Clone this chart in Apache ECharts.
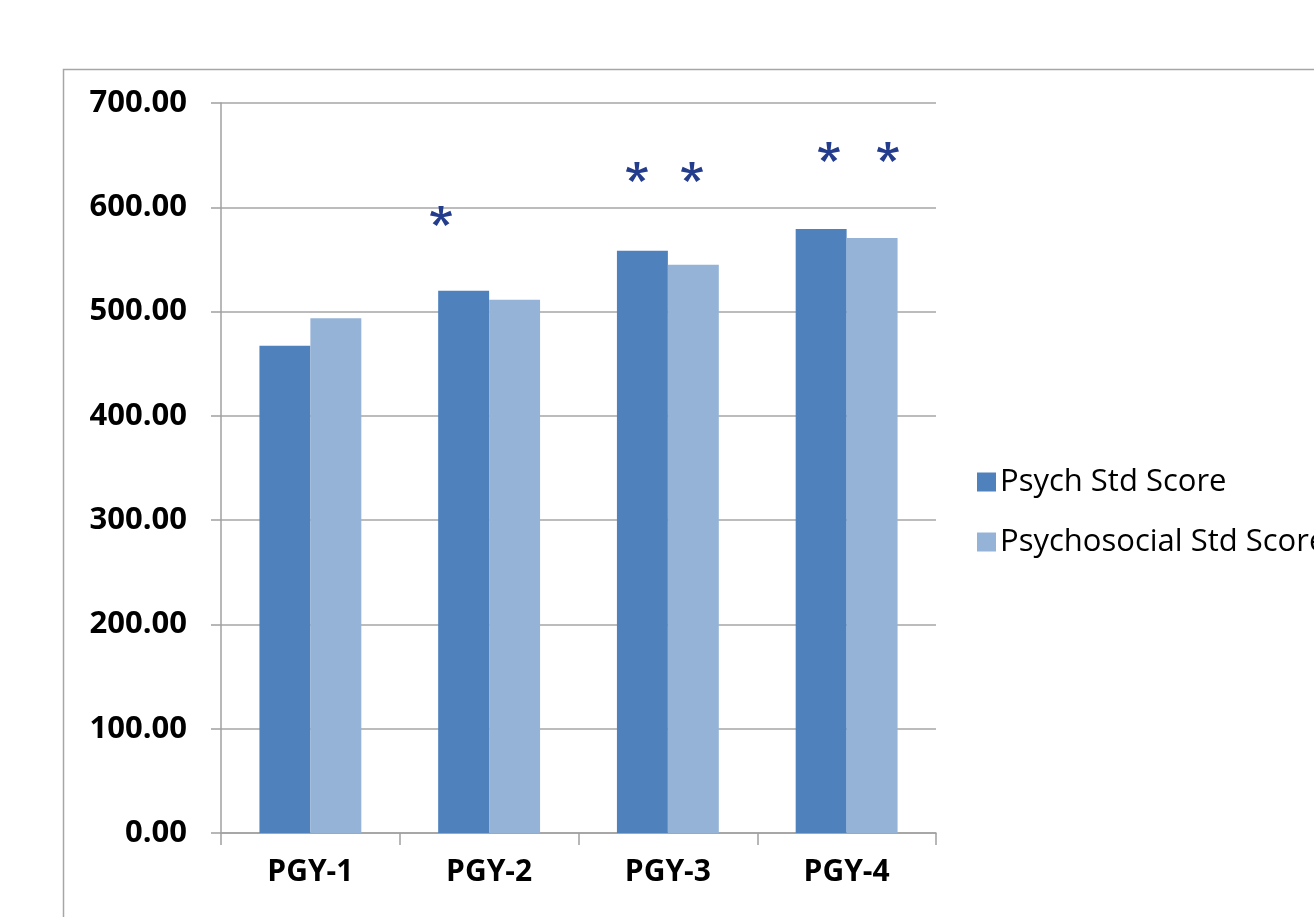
<!DOCTYPE html>
<html>
<head>
<meta charset="utf-8">
<script src="https://cdn.jsdelivr.net/npm/echarts@6/dist/echarts.min.js"></script>
<style>html,body{margin:0;padding:0;background:#fff}#c{width:1314px;height:917px}</style>
</head>
<body>
<div id="c"></div>
<script>
var categories = ['PGY-1', 'PGY-2', 'PGY-3', 'PGY-4'];
var seriesNames = ['Psych Std Score', 'Psychosocial Std Score'];
var psychValues = [467.3, 520.0, 558.4, 579.2];
var psychosocialValues = [493.5, 511.4, 544.9, 570.6];
var yTicks = { min: 0, max: 700, interval: 100 };
// significance markers: [category position (0..4), value]
var asteriskMarks = [[1.231, 591.6], [2.327, 633.8], [2.635, 633.8], [3.401, 653.0], [3.731, 653.0]];

// heavy five-armed asterisk glyph as a symbol path
function asteriskPath() {
  var parts = [];
  for (var i = 0; i < 5; i++) {
    var a = (-90 + 72 * i) * Math.PI / 180;
    var dx = Math.cos(a), dy = Math.sin(a), px = -dy, py = dx;
    var w0 = 0.13, w1 = 0.24, L = 1;
    var pts = [
      [px * w0, py * w0],
      [dx * L + px * w1, dy * L + py * w1],
      [dx * L - px * w1, dy * L - py * w1],
      [-px * w0, -py * w0]
    ];
    parts.push('M' + pts.map(function (p) { return (p[0] * 50 + 100).toFixed(2) + ' ' + (p[1] * 50 + 100).toFixed(2); }).join(' L') + ' Z');
  }
  return 'path://' + parts.join(' ');
}

var chart = echarts.init(document.getElementById('c'), null, { renderer: 'canvas' });
chart.setOption({
  animation: false,
  backgroundColor: '#fff',
  graphic: [{
    type: 'rect', z: -1, silent: true,
    shape: { x: 63.5, y: 69.5, width: 1400, height: 1000 },
    style: { fill: 'none', stroke: '#a6a6a6', lineWidth: 1.5 }
  }],
  grid: { left: 221, right: 378, top: 103, bottom: 84, containLabel: false },
  legend: {
    orient: 'vertical', left: 972, top: 461,
    icon: 'rect', itemWidth: 19, itemHeight: 19, itemGap: 28,
    data: seriesNames,
    textStyle: { fontFamily: 'Open Sans', fontSize: 31, color: '#000', lineHeight: 32, padding: [0, 0, 0, -1] }
  },
  xAxis: [{
    type: 'category', data: categories,
    axisLine: { lineStyle: { color: '#a0a0a0', width: 1.5 } },
    axisTick: { show: true, length: 12, alignWithLabel: false, lineStyle: { color: '#a0a0a0', width: 1.5 } },
    axisLabel: { fontFamily: 'Open Sans', fontWeight: 'bold', fontSize: 30, color: '#000', margin: 24 }
  }, {
    type: 'value', min: 0, max: 4, show: false
  }],
  yAxis: {
    type: 'value', min: yTicks.min, max: yTicks.max, interval: yTicks.interval,
    axisLine: { show: true, lineStyle: { color: '#a0a0a0', width: 1.5 } },
    axisTick: { show: true, length: 10, lineStyle: { color: '#a0a0a0', width: 1.5 } },
    splitLine: { lineStyle: { color: '#a6a6a6', width: 1.5 } },
    axisLabel: { fontFamily: 'Open Sans', fontWeight: 'bold', fontSize: 31, color: '#000', margin: 34,
      padding: [4, 0, 0, 0],
      formatter: function (v) { return v.toFixed(2); } }
  },
  series: [{
    name: seriesNames[0], type: 'bar', data: psychValues,
    barGap: '0%', barCategoryGap: '43%',
    itemStyle: { color: '#4F81BD' }
  }, {
    name: seriesNames[1], type: 'bar', data: psychosocialValues,
    barGap: '0%', barCategoryGap: '43%',
    itemStyle: { color: '#95B3D7' }
  }, {
    type: 'scatter', xAxisIndex: 1, data: asteriskMarks,
    symbol: asteriskPath(), symbolSize: [22, 21], symbolKeepAspect: true, silent: true,
    itemStyle: { color: '#243C8C', opacity: 1 }
  }]
});
</script>
</body>
</html>
